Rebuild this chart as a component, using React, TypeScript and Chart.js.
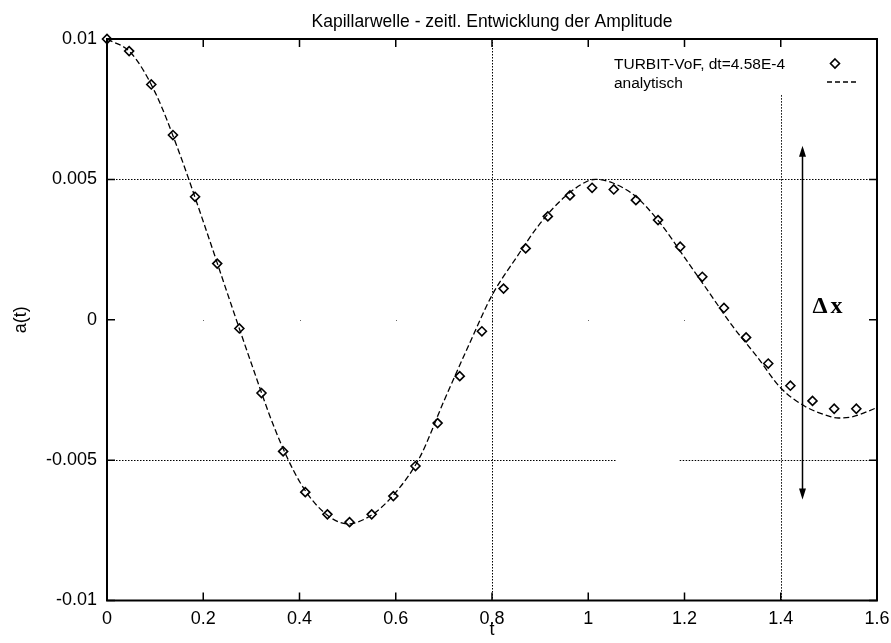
import React, { useEffect, useRef } from 'react';
import { Chart, registerables } from 'chart.js';

Chart.register(...registerables);

const TITLE = 'Kapillarwelle - zeitl. Entwicklung der Amplitude';
const X_LABEL = 't';
const Y_LABEL = 'a(t)';
const SIM_LABEL = 'TURBIT-VoF, dt=4.58E-4';
const ANA_LABEL = 'analytisch';
const DELTA_SYMBOL = 'Δ';
const DELTA_VAR = 'x';

// TURBIT-VoF simulation samples (diamonds)
const simT = [
  0, 0.046, 0.092, 0.137, 0.183, 0.229, 0.275, 0.321, 0.366, 0.412, 0.458, 0.504,
  0.55, 0.595, 0.641, 0.687, 0.733, 0.779, 0.824, 0.87, 0.916, 0.962, 1.008, 1.053,
  1.099, 1.145, 1.191, 1.237, 1.282, 1.328, 1.374, 1.42, 1.466, 1.511, 1.557,
];
const simA = [
  0.01, 0.00957, 0.00838, 0.00658, 0.00438, 0.002, -0.00031, -0.00261, -0.00469, -0.00614, -0.00693, -0.00721,
  -0.00693, -0.00628, -0.00521, -0.00368, -0.00201, -0.00041, 0.00111, 0.00254, 0.00368, 0.00443, 0.0047, 0.00464,
  0.00426, 0.00355, 0.0026, 0.00153, 0.00042, -0.00063, -0.00156, -0.00235, -0.00289, -0.00317, -0.00317,
];

// analytical solution (dashed curve)
const anaT = [
  0, 0.05, 0.1, 0.15, 0.2, 0.25, 0.3, 0.35, 0.4, 0.45, 0.5, 0.55, 0.6, 0.65, 0.7, 0.75, 0.8,
  0.85, 0.9, 0.95, 1.0, 1.015, 1.05, 1.1, 1.15, 1.2, 1.25, 1.3, 1.35, 1.4, 1.45, 1.5, 1.52, 1.55, 1.6,
];
const anaA = [
  0.01, 0.0095, 0.0081, 0.00596, 0.0035, 0.00095, -0.00156, -0.00394, -0.00576, -0.00685, -0.00727, -0.00695,
  -0.00615, -0.0049, -0.0029, -0.00097, 0.00087, 0.0022, 0.00343, 0.00436, 0.00495, 0.005, 0.00488, 0.00437,
  0.00343, 0.00222, 0.001, -0.00023, -0.0013, -0.00243, -0.00308, -0.00343, -0.0035, -0.00345, -0.00313,
];

const xTickLabels = ['0', '0.2', '0.4', '0.6', '0.8', '1', '1.2', '1.4', '1.6'];
const yTickLabels = ['-0.01', '-0.005', '0', '0.005', '0.01'];

// dotted reference lines
const hLines = [0.005, -0.005];
const hGap = [1.057, 1.19]; // gap in the -0.005 line
const vLines = [0.8, 1.4];
const vLineTop = [0.01, 0.008];

// Δx arrow
const arrowT = 1.445;
const arrowTop = 0.0062;
const arrowBottom = -0.0064;

const SANS = '"Liberation Sans", Arial, Helvetica, sans-serif';

const framePlugin = {
  id: 'framePlugin',
  beforeDatasetsDraw(chart: any) {
    const { ctx, chartArea: a, scales } = chart;
    const x = scales.x;
    const y = scales.y;
    ctx.save();
    ctx.strokeStyle = '#000';
    ctx.lineWidth = 1;
    ctx.setLineDash([1.5, 1.5]);
    hLines.forEach((v) => {
      const py = Math.round(y.getPixelForValue(v)) + 0.5;
      ctx.beginPath();
      if (v < 0) {
        ctx.moveTo(a.left, py);
        ctx.lineTo(x.getPixelForValue(hGap[0]), py);
        ctx.moveTo(x.getPixelForValue(hGap[1]), py);
        ctx.lineTo(a.right, py);
      } else {
        ctx.moveTo(a.left, py);
        ctx.lineTo(a.right, py);
      }
      ctx.stroke();
    });
    vLines.forEach((v, i) => {
      const px = Math.round(x.getPixelForValue(v)) + 0.5;
      ctx.beginPath();
      ctx.moveTo(px, y.getPixelForValue(vLineTop[i]));
      ctx.lineTo(px, a.bottom);
      ctx.stroke();
    });
    // faint dots on zero line at tick positions
    ctx.setLineDash([]);
    ctx.fillStyle = '#666';
    const y0 = Math.round(y.getPixelForValue(0));
    x.ticks.forEach((t: any) => {
      if (t.value > 0 && t.value < 1.6) {
        ctx.fillRect(Math.round(x.getPixelForValue(t.value)), y0, 1, 1);
      }
    });
    ctx.restore();
  },
  afterDraw(chart: any) {
    const { ctx, chartArea: a, scales } = chart;
    const x = scales.x;
    const y = scales.y;
    ctx.save();
    ctx.strokeStyle = '#000';
    ctx.fillStyle = '#000';
    ctx.setLineDash([]);
    // frame
    ctx.lineWidth = 2;
    ctx.strokeRect(a.left, a.top, a.right - a.left, a.bottom - a.top);
    // inward tick marks
    ctx.lineWidth = 1.5;
    const tl = 8;
    x.ticks.forEach((t: any) => {
      const px = x.getPixelForValue(t.value);
      ctx.beginPath();
      ctx.moveTo(px, a.bottom);
      ctx.lineTo(px, a.bottom - tl);
      ctx.moveTo(px, a.top);
      ctx.lineTo(px, a.top + tl);
      ctx.stroke();
    });
    y.ticks.forEach((t: any) => {
      const py = y.getPixelForValue(t.value);
      ctx.beginPath();
      ctx.moveTo(a.left, py);
      ctx.lineTo(a.left + tl, py);
      ctx.moveTo(a.right, py);
      ctx.lineTo(a.right - tl, py);
      ctx.stroke();
    });
    // title
    ctx.font = `17.5px ${SANS}`;
    ctx.textAlign = 'center';
    ctx.textBaseline = 'alphabetic';
    ctx.fillText(TITLE, (a.left + a.right) / 2, a.top - 12);
    // legend
    ctx.font = `15.5px ${SANS}`;
    ctx.textAlign = 'left';
    const lx = a.right - 263;
    ctx.fillText(SIM_LABEL, lx, a.top + 29.5);
    ctx.fillText(ANA_LABEL, lx, a.top + 48.5);
    // legend diamond
    const dx = a.right - 42;
    const dy = a.top + 24.5;
    ctx.lineWidth = 1.6;
    ctx.beginPath();
    ctx.moveTo(dx, dy - 4.5);
    ctx.lineTo(dx + 4.5, dy);
    ctx.lineTo(dx, dy + 4.5);
    ctx.lineTo(dx - 4.5, dy);
    ctx.closePath();
    ctx.stroke();
    // legend dashed line
    ctx.lineWidth = 1.3;
    ctx.setLineDash([5, 3]);
    ctx.beginPath();
    ctx.moveTo(a.right - 50, a.top + 43);
    ctx.lineTo(a.right - 19, a.top + 43);
    ctx.stroke();
    ctx.setLineDash([]);
    // Δx arrow
    const ax = Math.round(x.getPixelForValue(arrowT)) + 0.5;
    const at = y.getPixelForValue(arrowTop);
    const ab = y.getPixelForValue(arrowBottom);
    ctx.lineWidth = 1.5;
    ctx.beginPath();
    ctx.moveTo(ax, at + 4);
    ctx.lineTo(ax, ab - 4);
    ctx.stroke();
    ctx.beginPath();
    ctx.moveTo(ax, at);
    ctx.lineTo(ax - 3.5, at + 11);
    ctx.lineTo(ax + 3.5, at + 11);
    ctx.closePath();
    ctx.fill();
    ctx.beginPath();
    ctx.moveTo(ax, ab);
    ctx.lineTo(ax - 3.5, ab - 11);
    ctx.lineTo(ax + 3.5, ab - 11);
    ctx.closePath();
    ctx.fill();
    ctx.font = `bold 24px "Liberation Serif", "Times New Roman", serif`;
    ctx.textAlign = 'left';
    const by = y.getPixelForValue(0) - 6.5;
    ctx.fillText(DELTA_SYMBOL, ax + 10, by);
    ctx.fillText(DELTA_VAR, ax + 28, by);
    ctx.restore();
  },
};

export default function App() {
  const ref = useRef<HTMLCanvasElement | null>(null);

  useEffect(() => {
    if (!ref.current) return;
    const font = { family: SANS, size: 18 };
    const chart = new Chart(ref.current, {
      type: 'line',
      data: {
        datasets: [
          {
            label: SIM_LABEL,
            data: simT.map((t, i) => ({ x: t, y: simA[i] })),
            showLine: false,
            pointStyle: 'rectRot',
            pointRadius: 4.5,
            pointBorderWidth: 1.6,
            borderColor: '#000',
            backgroundColor: 'rgba(0,0,0,0)',
            pointBackgroundColor: 'rgba(0,0,0,0)',
            clip: false,
          },
          {
            label: ANA_LABEL,
            data: anaT.map((t, i) => ({ x: t, y: anaA[i] })),
            borderColor: '#000',
            borderWidth: 1.3,
            borderDash: [6, 3],
            pointRadius: 0,
            cubicInterpolationMode: 'monotone',
            fill: false,
          },
        ],
      },
      options: {
        animation: false,
        responsive: false,
        devicePixelRatio: 1,
        layout: { padding: { left: 0, top: 39, right: 14, bottom: 0 } },
        plugins: {
          legend: { display: false },
          title: { display: false },
          tooltip: { enabled: false },
        },
        scales: {
          x: {
            type: 'linear',
            min: 0,
            max: 1.6,
            grid: { display: false },
            border: { display: false },
            ticks: {
              stepSize: 0.2,
              color: '#000',
              font,
              padding: 0,
              maxRotation: 0,
              callback: (_v: any, i: number) => xTickLabels[i],
            },
            title: { display: true, text: X_LABEL, color: '#000', font, padding: { top: 2, bottom: 2 } },
            afterFit: (s: any) => {
              s.height = 42.5;
              s.paddingLeft = 0;
              s.paddingRight = 0;
            },
          },
          y: {
            type: 'linear',
            min: -0.01,
            max: 0.01,
            grid: { display: false },
            border: { display: false },
            ticks: {
              stepSize: 0.005,
              color: '#000',
              font,
              padding: 2,
              callback: (_v: any, i: number) => yTickLabels[i],
            },
            title: { display: true, text: Y_LABEL, color: '#000', font, padding: { top: 10, bottom: 10 } },
            afterFit: (s: any) => {
              s.width = 107;
              s.paddingTop = 0;
              s.paddingBottom = 0;
            },
          },
        },
      },
      plugins: [framePlugin],
    } as any);
    return () => chart.destroy();
  }, []);

  return (
    <div style={{ position: 'absolute', left: 0, top: 0, width: 891, height: 643, background: '#fff' }}>
      <canvas ref={ref} width={891} height={643} style={{ width: 891, height: 643 }} />
    </div>
  );
}
